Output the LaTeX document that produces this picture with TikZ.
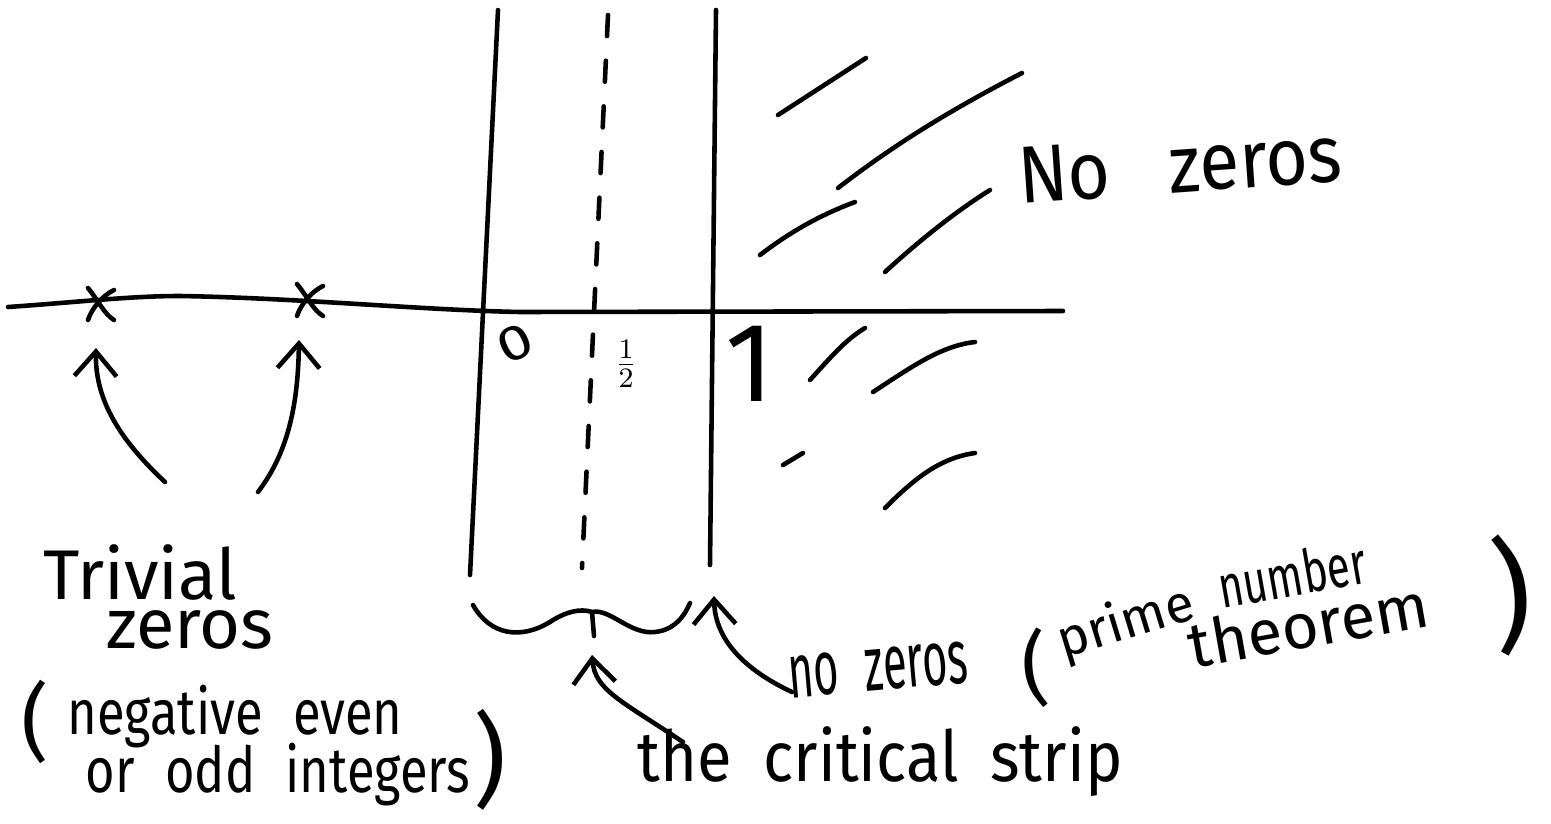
\documentclass[tikz,border=0pt]{standalone}
\usepackage{fontspec}
\usepackage{graphicx}
\setmainfont{Fira Sans}
\usetikzlibrary{arrows.meta,calc}
\newcommand{\narrowtext}[2]{\scalebox{#1}[1]{#2}}
\tikzset{
  ink/.style={line width=1.3pt, line cap=round, line join=round},
  hatch/.style={ink},
  arr/.style={ink, -{Straight Barb[length=7pt,width=12pt]}},
  lbl/.style={inner sep=0pt, font=\fontsize{20}{24}\selectfont},
}
\begin{document}
\begin{tikzpicture}[x=0.01cm,y=-0.01cm]
\useasboundingbox (0,0) rectangle (1551,824);
% axes
\coordinate (axL) at (8,307);
\coordinate (axR) at (1063,311);
\draw[ink] (axL) .. controls (80,302) and (130,296) .. (180,296)
  .. controls (300,298) and (420,310) .. (520,312) -- (axR);
\coordinate (v0t) at (498,10); \coordinate (v0b) at (470,575);
\coordinate (v1t) at (716,10); \coordinate (v1b) at (710,565);
\coordinate (vht) at (608,15); \coordinate (vhb) at (582,568);
\draw[ink] (v0t) -- (v0b);
\draw[ink] (v1t) -- (v1b);
\draw[ink, dash pattern=on 6pt off 7pt] (vht) -- (vhb);
% crosses
\coordinate (x1) at (100,304);
\coordinate (x2) at (309,300);
\foreach \c in {x1,x2}{
  \draw[ink] ($(\c)+(-12,-16)$) .. controls ($(\c)+(-2,-4)$) and ($(\c)+(4,10)$) .. ($(\c)+(14,16)$);
  \draw[ink] ($(\c)+(14,-14)$) .. controls ($(\c)+(2,-8)$) and ($(\c)+(-8,4)$) .. ($(\c)+(-12,16)$);
}
% axis labels
\node[lbl, rotate=25] (zero) at (515,343) {\fontsize{14}{16}\selectfont\narrowtext{1.25}{0}};
\node[lbl] (half) at (626,364) {\fontsize{11}{12}\selectfont$\frac{1}{2}$};
\node[lbl] (one) at (750,364) {\fontsize{32}{36}\selectfont 1};
% hatching
\draw[hatch] (778,115) -- (866,58);
\draw[hatch] (838,188) .. controls (900,140) and (960,105) .. (1022,73);
\draw[hatch] (760,255) .. controls (790,232) and (820,215) .. (855,202);
\draw[hatch] (885,272) .. controls (920,240) and (955,212) .. (990,190);
\draw[hatch] (810,380) .. controls (830,358) and (845,340) .. (865,328);
\draw[hatch] (873,392) .. controls (910,368) and (940,346) .. (975,342);
\draw[hatch] (783,465) -- (803,453);
\draw[hatch] (885,508) .. controls (915,478) and (940,458) .. (975,453);
\node[lbl, rotate=4] (nozerosR) at (1180,165) {\fontsize{23}{28}\selectfont\narrowtext{0.9}{No\hspace{0.8em}zeros}};
% trivial zeros labels
\node[lbl] (trivial) at (140,572) {Trivial};
\node[lbl] (tzeros) at (190,630) {zeros};
\node[lbl, font=\fontsize{24}{26}\selectfont] (lp1) at (35,722) {(};
\node[lbl, font=\fontsize{18}{22}\selectfont] (neg) at (235,717) {\narrowtext{0.8}{negative\hspace{0.6em}even}};
\node[lbl, font=\fontsize{18}{22}\selectfont] (odd) at (278,775) {\narrowtext{0.8}{or\hspace{0.6em}odd\hspace{0.6em}integers}};
\node[lbl, font=\fontsize{29}{32}\selectfont] (rp1) at (490,760) {)};
\coordinate (t1s) at (165,482);
\coordinate (t2s) at (258,492);
\draw[arr] (t1s) .. controls (120,440) and (95,400) .. ($(x1)+(-4,44)$);
\draw[arr] (t2s) .. controls (290,450) and (298,400) .. ($(x2)+(-10,40)$);
% brace
\coordinate (bL) at (473,605);
\coordinate (bR) at (690,603);
\coordinate (bM) at (592,612);
\draw[ink] (bL) .. controls (490,635) and (520,640) .. (550,622)
  .. controls (565,612) and (580,608) .. (bM)
  .. controls (610,608) and (630,635) .. (655,632)
  .. controls (675,630) and (685,615) .. (bR);
\draw[ink] (bM) -- (594,636);
% critical strip
\node[lbl] (crit) at (880,762) {\narrowtext{0.9}{the\hspace{0.5em}critical\hspace{0.5em}strip}};
\coordinate (cs) at (683,742);
\draw[arr] (cs) .. controls (620,700) and (595,690) .. (592,655);
% no zeros prime number theorem
\node[lbl, rotate=5, font=\fontsize{22}{26}\selectfont] (nozeros) at (878,670) {\narrowtext{0.56}{no\hspace{0.6em}zeros}};
\node[lbl, rotate=5, font=\fontsize{23}{26}\selectfont] (lp2) at (1035,668) {(};
\node[lbl, rotate=17, font=\fontsize{15}{18}\selectfont] (prime) at (1126,624) {prime};
\node[lbl, rotate=10, font=\fontsize{17}{20}\selectfont] (number) at (1292,574) {\narrowtext{0.7}{number}};
\node[lbl, rotate=10, font=\fontsize{18}{22}\selectfont] (theorem) at (1308,624) {theorem};
\node[lbl, rotate=5, font=\fontsize{35}{38}\selectfont] (rp2) at (1512,595) {)};
\coordinate (nzs) at (792,692);
\draw[arr] (nzs) .. controls (745,670) and (715,640) .. (714,596);
\end{tikzpicture}
\end{document}
